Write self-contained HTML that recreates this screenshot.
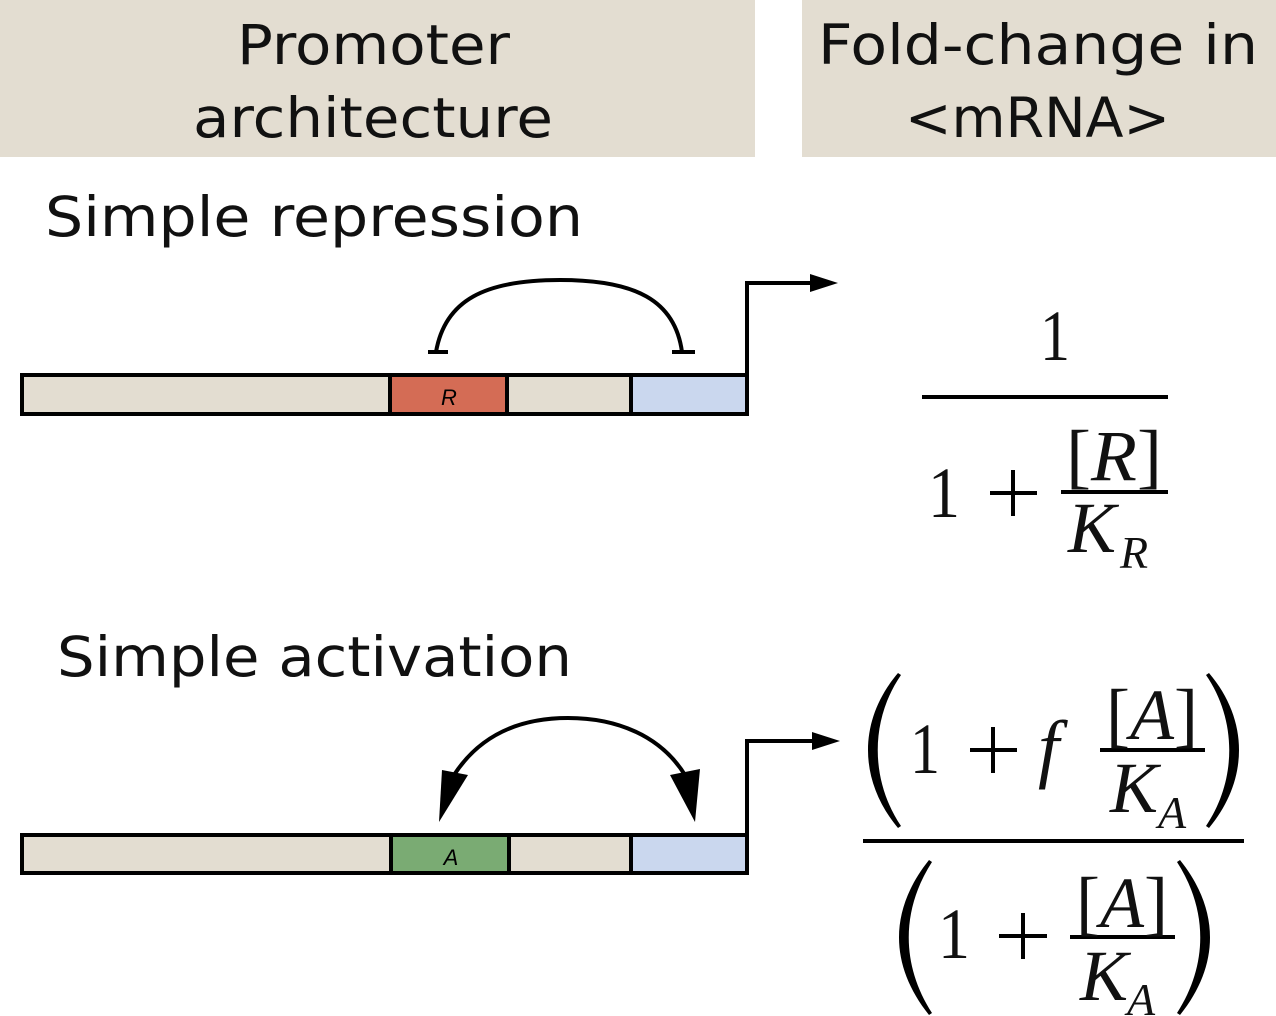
<!DOCTYPE html>
<html><head><style>
body{margin:0;width:1276px;height:1016px;background:#fff;position:relative;overflow:hidden}
</style></head><body>
<svg style="position:absolute;left:0;top:0" width="1276" height="1016">
<rect x="0" y="0" width="755" height="157" fill="#e3ddd1"/>
<rect x="802" y="0" width="474" height="157" fill="#e3ddd1"/>
<g font-family="DejaVu Sans, sans-serif" font-size="55" fill="#111">
<text x="237" y="64" textLength="273" lengthAdjust="spacingAndGlyphs">Promoter</text>
<text x="193" y="137" textLength="360" lengthAdjust="spacingAndGlyphs">architecture</text>
<text x="818" y="64" textLength="440" lengthAdjust="spacingAndGlyphs">Fold-change in</text>
<text x="905" y="137" textLength="265" lengthAdjust="spacingAndGlyphs">&lt;mRNA&gt;</text>
<text x="45" y="236" textLength="538" lengthAdjust="spacingAndGlyphs">Simple repression</text>
<text x="57" y="676" textLength="515" lengthAdjust="spacingAndGlyphs">Simple activation</text>
</g>
<g stroke="#000" stroke-width="4">
<rect x="22" y="375" width="368" height="39" fill="#e3ddd1"/>
<rect x="390" y="375" width="117" height="39" fill="#d46c55"/>
<rect x="507" y="375" width="124" height="39" fill="#e3ddd1"/>
<rect x="631" y="375" width="116" height="39" fill="#cad7ee"/>
<polyline points="747,377 747,283 812,283" fill="none"/>
<path d="M436,352 C445,300 485,280 560,280 C635,280 675,300 682,352" fill="none"/>
<line x1="428" y1="352" x2="448" y2="352"/><line x1="672" y1="352" x2="695" y2="352"/>
<rect x="22" y="835" width="369" height="38" fill="#e3ddd1"/>
<rect x="391" y="835" width="118" height="38" fill="#7aab73"/>
<rect x="509" y="835" width="122" height="38" fill="#e3ddd1"/>
<rect x="631" y="835" width="116" height="38" fill="#cad7ee"/>
<polyline points="747,837 747,741 815,741" fill="none"/>
<path d="M454,775 C480,735 520,718 568,718 C616,718 660,735 685,775" fill="none"/>
</g>
<polygon points="810,274 838,283 810,292" fill="#000"/>
<polygon points="812,732 840,741 812,750" fill="#000"/>
<polygon points="439,822 442,770 468,775" fill="#000"/>
<polygon points="695,822 670,775 700,769" fill="#000"/>
<text x="449" y="405" font-size="22" font-style="italic" text-anchor="middle" font-family="Liberation Sans">R</text>
<text x="451" y="865" font-size="22" font-style="italic" text-anchor="middle" font-family="Liberation Sans">A</text>
<g stroke="#000" stroke-width="4">
<line x1="922" y1="397" x2="1168" y2="397"/>
<line x1="1061" y1="492" x2="1168" y2="492"/>
<line x1="863" y1="841" x2="1244" y2="841"/>
<line x1="1100" y1="750" x2="1205" y2="750"/>
<line x1="1070" y1="937" x2="1175" y2="937"/>
<line x1="990" y1="493" x2="1037" y2="493"/><line x1="1013" y1="470" x2="1013" y2="516"/>
<line x1="970" y1="750" x2="1017" y2="750"/><line x1="993" y1="727" x2="993" y2="773"/>
<line x1="999" y1="936" x2="1047" y2="936"/><line x1="1023" y1="913" x2="1023" y2="959"/>
</g>
<g fill="#000">
<path d="M898,673 C858,720 858,780 898,828 L901,826 C870,780 870,720 901,675 Z"/>
<path d="M1209,673 C1249,720 1249,780 1209,828 L1206,826 C1237,780 1237,720 1206,675 Z"/>
<path d="M929,860 C889,910 889,965 929,1015 L932,1013 C901,965 901,910 932,862 Z"/>
<path d="M1180,860 C1220,910 1220,965 1180,1015 L1177,1013 C1208,965 1208,910 1177,862 Z"/>
</g>
<g font-family="Liberation Serif, serif" font-size="72" fill="#111">
<text x="1040" y="360" textLength="30" lengthAdjust="spacingAndGlyphs">1</text>
<text x="928" y="517" textLength="32" lengthAdjust="spacingAndGlyphs">1</text>
<text x="1066" y="480" textLength="96" lengthAdjust="spacingAndGlyphs">[<tspan font-style="italic">R</tspan>]</text>
<text x="1068" y="552" font-style="italic">K</text>
<text x="1120" y="568" font-size="46" font-style="italic">R</text>
<text x="910" y="773" textLength="30" lengthAdjust="spacingAndGlyphs">1</text>
<text x="1038" y="773" font-style="italic" font-size="76">f</text>
<text x="1106" y="739" textLength="92" lengthAdjust="spacingAndGlyphs">[<tspan font-style="italic">A</tspan>]</text>
<text x="1110" y="812" font-style="italic">K</text>
<text x="1158" y="828" font-size="46" font-style="italic">A</text>
<text x="938" y="958" textLength="32" lengthAdjust="spacingAndGlyphs">1</text>
<text x="1076" y="927" textLength="92" lengthAdjust="spacingAndGlyphs">[<tspan font-style="italic">A</tspan>]</text>
<text x="1080" y="1000" font-style="italic">K</text>
<text x="1127" y="1015" font-size="46" font-style="italic">A</text>
</g>
</svg>
</body></html>
